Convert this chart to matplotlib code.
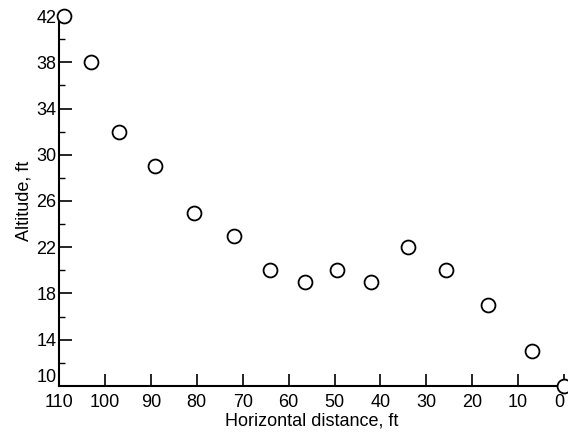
import matplotlib.pyplot as plt
from matplotlib.ticker import MultipleLocator

plt.rcParams['font.family'] = ['Liberation Sans', 'DejaVu Sans']

# Data
horizontal_ft = [109, 103, 97, 89, 80.5, 72, 64, 56.5, 49.5, 42, 34, 25.7, 16.5, 7, 0]
altitude_ft = [42, 38, 32, 29, 25, 23, 20, 19, 20, 19, 22, 20, 17, 13, 10]
x_ticks = list(range(110, -1, -10))
y_ticks = list(range(10, 43, 4))

fig = plt.figure(figsize=(5.68, 4.36), dpi=100)
ax = fig.add_axes([0.104, 0.115, 0.889, 0.848])

ax.plot(horizontal_ft, altitude_ft, 'o', mfc='white', mec='black', mew=1.3,
        ms=10, clip_on=False, zorder=3)

ax.set_xlim(110, 0)
ax.set_ylim(10, 42)
ax.set_xticks(x_ticks)
ax.set_yticks(y_ticks)
ax.yaxis.set_minor_locator(MultipleLocator(2))
ax.xaxis.get_ticklabels()[-1].set_horizontalalignment('right')
ax.yaxis.get_ticklabels()[0].set_verticalalignment('bottom')

for side in ['top', 'right']:
    ax.spines[side].set_visible(False)
for side in ['left', 'bottom']:
    ax.spines[side].set_linewidth(1.5)

ax.tick_params(direction='in', length=9, width=1.2, labelsize=13, pad=2)
ax.tick_params(which='minor', direction='in', length=4, width=1)
ax.tick_params(axis='x', pad=6)

ax.set_xlabel('Horizontal distance, ft', fontsize=13, labelpad=1)
ax.set_ylabel('Altitude, ft', fontsize=13, labelpad=3)

plt.savefig('out.png', dpi=100)
plt.close()
